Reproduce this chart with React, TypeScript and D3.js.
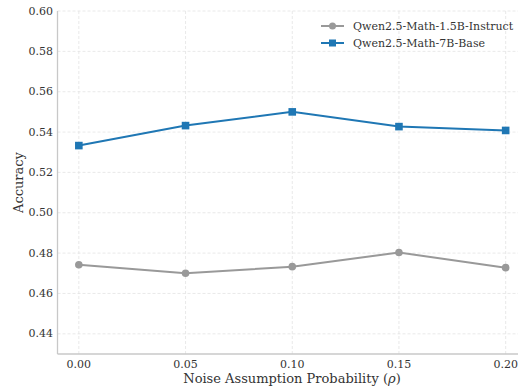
import React from "react";
import * as d3 from "d3";

const noiseProbs = [0.0, 0.05, 0.1, 0.15, 0.2];
const instruct15B = [0.4742, 0.4700, 0.4733, 0.4803, 0.4728];
const base7B = [0.5333, 0.5432, 0.5500, 0.5427, 0.5408];
const xTicks = [0.0, 0.05, 0.1, 0.15, 0.2];
const yTicks = [0.44, 0.46, 0.48, 0.5, 0.52, 0.54, 0.56, 0.58, 0.6];
const seriesNames = ["Qwen2.5-Math-1.5B-Instruct", "Qwen2.5-Math-7B-Base"];

const W = 518;
const H = 387;
const FONT = "'DejaVu Serif', serif";

export default function App() {
  const x = d3.scaleLinear().domain([-0.01, 0.21]).range([57.5, 527]);
  const y = d3.scaleLinear().domain([0.43, 0.6]).range([354, 11]);
  const line = d3
    .line<[number, number]>()
    .x((d) => x(d[0]))
    .y((d) => y(d[1]));
  const grayPts: [number, number][] = noiseProbs.map((p, i) => [p, instruct15B[i]]);
  const bluePts: [number, number][] = noiseProbs.map((p, i) => [p, base7B[i]]);
  const gray = "#999999";
  const blue = "#1f77b4";
  const gridColor = "#e3e3e3";
  return (
    <svg
      width={W}
      height={H}
      style={{ position: "absolute", left: 0, top: 0, background: "#fff" }}
      fontFamily={FONT}
    >
      {/* grid */}
      {yTicks.map((t) => (
        <line
          key={"gy" + t}
          x1={x.range()[0]}
          x2={W}
          y1={y(t)}
          y2={y(t)}
          stroke={gridColor}
          strokeWidth={0.8}
          strokeDasharray="3,2"
        />
      ))}
      {xTicks.map((t) => (
        <line
          key={"gx" + t}
          x1={x(t)}
          x2={x(t)}
          y1={y.range()[1]}
          y2={y.range()[0]}
          stroke={gridColor}
          strokeWidth={0.8}
          strokeDasharray="3,2"
        />
      ))}
      {/* spines */}
      <line x1={57.5} x2={57.5} y1={11} y2={354} stroke="#c8c8c8" strokeWidth={1.3} />
      <line x1={57.5} x2={W} y1={354} y2={354} stroke="#c8c8c8" strokeWidth={1.3} />
      {/* tick labels */}
      {yTicks.map((t) => (
        <text
          key={"ty" + t}
          x={53}
          y={y(t)}
          textAnchor="end"
          dominantBaseline="central"
          fontSize={11}
          fill="#333"
        >
          {t.toFixed(2)}
        </text>
      ))}
      {xTicks.map((t) => (
        <text
          key={"tx" + t}
          x={x(t)}
          y={364}
          textAnchor="middle"
          dominantBaseline="central"
          fontSize={11}
          fill="#333"
        >
          {t.toFixed(2)}
        </text>
      ))}
      {/* axis labels */}
      <text x={292} y={383} textAnchor="middle" fontSize={13} fill="#333">
        Noise Assumption Probability (<tspan fontStyle="italic">ρ</tspan>)
      </text>
      <text
        transform={`translate(18,${(11 + 354) / 2}) rotate(-90)`}
        textAnchor="middle"
        dominantBaseline="central"
        fontSize={13}
        fill="#333"
      >
        Accuracy
      </text>
      {/* series */}
      <path d={line(grayPts) || ""} fill="none" stroke={gray} strokeWidth={2} />
      {grayPts.map((p, i) => (
        <circle key={"gc" + i} cx={x(p[0])} cy={y(p[1])} r={3.8} fill={gray} />
      ))}
      <path d={line(bluePts) || ""} fill="none" stroke={blue} strokeWidth={2} />
      {bluePts.map((p, i) => (
        <rect key={"br" + i} x={x(p[0]) - 3.8} y={y(p[1]) - 3.8} width={7.6} height={7.6} fill={blue} />
      ))}
      {/* legend */}
      <g>
        <line x1={321} x2={344} y1={26} y2={26} stroke={gray} strokeWidth={2} />
        <circle cx={332.5} cy={26} r={3.5} fill={gray} />
        <text x={353} y={26} dominantBaseline="central" fontSize={11} fill="#333">
          {seriesNames[0]}
        </text>
        <line x1={321} x2={344} y1={43} y2={43} stroke={blue} strokeWidth={2} />
        <rect x={332.5 - 3.5} y={43 - 3.5} width={7} height={7} fill={blue} />
        <text x={353} y={43} dominantBaseline="central" fontSize={11} fill="#333">
          {seriesNames[1]}
        </text>
      </g>
    </svg>
  );
}
